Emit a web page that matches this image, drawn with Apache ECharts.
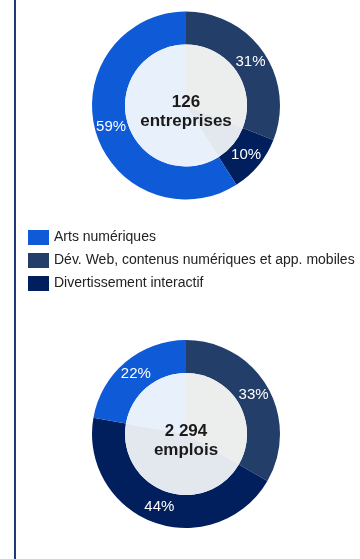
<!DOCTYPE html>
<html lang="fr">
<head>
<meta charset="utf-8">
<title>Entreprises et emplois</title>
<script src="https://cdn.jsdelivr.net/npm/echarts@6/dist/echarts.min.js"></script>
<style>
  html, body { margin: 0; padding: 0; background: #ffffff; }
  #chart { width: 360px; height: 559px; }
</style>
</head>
<body>
<div id="chart"></div>
<script>
// Sectors, in clockwise order starting at 12 o'clock
const sectors = ['Dév. Web, contenus numériques et app. mobiles', 'Divertissement interactif', 'Arts numériques'];
const legendOrder = ['Arts numériques', 'Dév. Web, contenus numériques et app. mobiles', 'Divertissement interactif'];

// Share of each sector (%)
const entreprisesShare = [31, 10, 59];
const emploisShare = [33, 44, 22];

// Totals shown in the middle of each donut
const entreprisesTotal = ['126', 'entreprises'];
const emploisTotal = ['2 294', 'emplois'];

const ringColors = ['#233e69', '#001f5c', '#0f5ad6'];
const coreColors = ['#eceeed', '#e3e8ee', '#e8f0fb'];

const FONT = '"Liberation Sans", Arial, sans-serif';
const chart = echarts.init(document.getElementById('chart'), null, { renderer: 'canvas' });

// Coloured outer ring
function ring(values, cy) {
  return {
    type: 'pie',
    center: [186, cy],
    radius: [61, 94],
    startAngle: 90,
    clockwise: true,
    silent: true,
    label: { show: false },
    labelLine: { show: false },
    itemStyle: { borderWidth: 0 },
    data: sectors.map((name, i) => ({ name, value: values[i], itemStyle: { color: ringColors[i] } }))
  };
}

// Pale inner disc, split along the same angles
function core(values, cy) {
  return {
    type: 'pie',
    center: [186, cy],
    radius: [0, 61],
    startAngle: 90,
    clockwise: true,
    silent: true,
    legendHoverLink: false,
    label: { show: false },
    labelLine: { show: false },
    emphasis: { disabled: true },
    itemStyle: { borderWidth: 0 },
    data: sectors.map((name, i) => ({ name, value: values[i], itemStyle: { color: coreColors[i] } }))
  };
}

// Transparent layer carrying the percentage labels slightly inside the ring's middle
function percentLabels(values, cy) {
  return {
    type: 'pie',
    center: [186, cy],
    radius: [56, 94],
    startAngle: 90,
    clockwise: true,
    silent: true,
    legendHoverLink: false,
    avoidLabelOverlap: false,
    emphasis: { disabled: true },
    label: {
      show: true,
      position: 'inside',
      formatter: '{c}%',
      color: '#ffffff',
      fontSize: 15,
      fontFamily: FONT
    },
    labelLine: { show: false },
    itemStyle: { color: 'rgba(0,0,0,0)', borderWidth: 0 },
    data: sectors.map((name, i) => ({ name, value: values[i] }))
  };
}

function centreText(lines, cy) {
  return lines.map((t, i) => ({
    type: 'text',
    x: 186,
    y: cy - 3 + i * 19,
    z: 100,
    silent: true,
    style: {
      text: t,
      align: 'center',
      verticalAlign: 'middle',
      fill: '#1a1a1a',
      fontSize: 17,
      fontWeight: 'bold',
      fontFamily: FONT
    }
  }));
}

chart.setOption({
  animation: false,
  backgroundColor: '#ffffff',
  legend: {
    data: legendOrder.map((name) => ({
      name,
      itemStyle: { color: ringColors[sectors.indexOf(name)] }
    })),
    orient: 'vertical',
    left: 23,
    top: 225,
    itemWidth: 21,
    itemHeight: 15,
    itemGap: 8,
    icon: 'rect',
    selectedMode: false,
    textStyle: { fontSize: 14, color: '#222222', fontFamily: FONT }
  },
  series: [
    ring(entreprisesShare, 105.5),
    core(entreprisesShare, 105.5),
    percentLabels(entreprisesShare, 105.5),
    ring(emploisShare, 434),
    core(emploisShare, 434),
    percentLabels(emploisShare, 434)
  ],
  graphic: [
    {
      type: 'rect',
      shape: { x: 14, y: 0, width: 2, height: 559 },
      style: { fill: '#1d3a7a' },
      silent: true
    },
    ...centreText(entreprisesTotal, 105.5),
    ...centreText(emploisTotal, 434)
  ]
});
</script>
</body>
</html>
